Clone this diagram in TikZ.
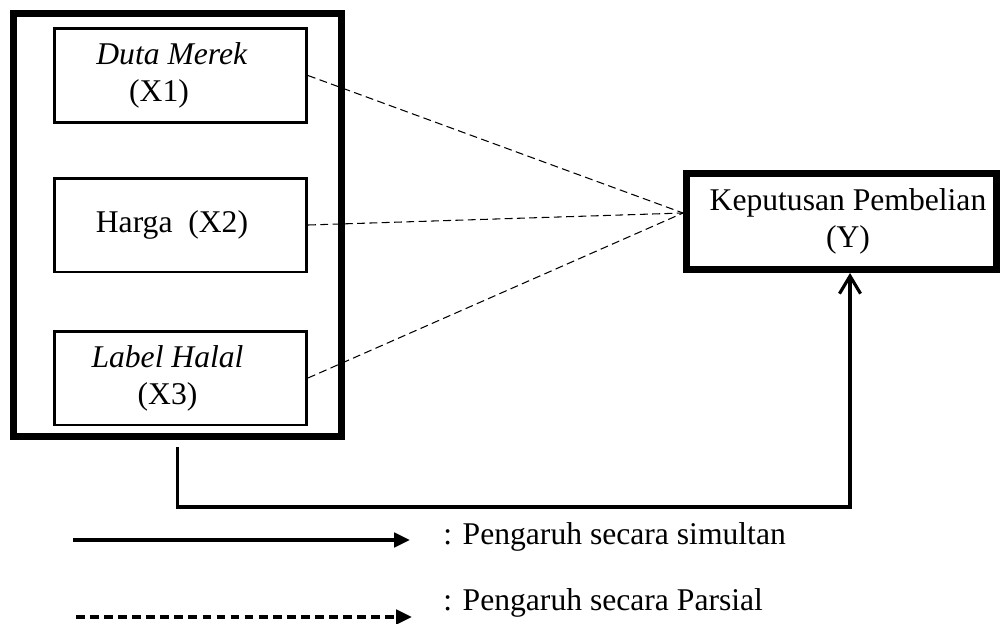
\documentclass[tikz,border=0pt]{standalone}
\usepackage{fontspec}
\setmainfont{Liberation Serif}
\usetikzlibrary{arrows.meta}
\tikzset{
	varbox/.style={draw,line width=1.7pt,minimum width=5.04cm,minimum height=1.88cm,align=center,inner sep=0pt},
	parsial/.style={dash pattern=on 4.5pt off 2.5pt,line width=0.6pt},
	simultan/.style={line width=1.8pt,-{Straight Barb[length=10pt,width=12pt,line width=1.8pt]}}
}
\begin{document}
\begin{tikzpicture}[x=0.02cm,y=-0.02cm,font=\fontsize{18}{21}\selectfont]
	\useasboundingbox (0,0) rectangle (1000,623);
	% variabel bebas
	\node[draw,line width=4pt,minimum width=6.56cm,minimum height=8.46cm] (outer) at (177.5,225) {};
	\node[varbox] (x1) at (180.5,75.5) {\textit{Duta Merek}\hspace*{0.34cm}\\(X1)\hspace*{0.86cm}};
	\node[varbox] (x2) at (180.5,225) {Harga\ \ (X2)\hspace*{0.34cm}};
	\node[varbox] (x3) at (180.5,378) {\textit{Label Halal}\hspace*{0.52cm}\\(X3)\hspace*{0.52cm}};
	% variabel terikat
	\node[draw,line width=4pt,minimum width=6.2cm,minimum height=1.92cm,align=center,inner sep=0pt] (y) at (841.5,221.5) {\hspace*{0.26cm}Keputusan Pembelian\\\hspace*{0.26cm}(Y)};
	\coordinate (meet) at ([yshift=0.17cm]y.west);
	\draw[parsial] (x1.east) -- (meet);
	\draw[parsial] (x2.east) -- (meet);
	\draw[parsial] (x3.east) -- (meet);
	\coordinate (turn) at (850,507);
	\draw[simultan] ([yshift=-0.14cm]outer.south) |- (turn) -- (y.south -| turn);
	% keterangan
	\coordinate (s1) at (73,540);
	\coordinate (s2) at (410,540);
	\coordinate (p1) at (76,617);
	\coordinate (p2) at (412,617);
	\draw[line width=2.3pt,-{Triangle[length=9pt,width=8pt]}] (s1) -- (s2);
	\draw[line width=2.3pt,dash pattern=on 5pt off 3pt,-{Triangle[length=9pt,width=8pt]}] (p1) -- (p2);
	\node[anchor=west,inner sep=0pt] (ks) at (443,537) {: Pengaruh secara simultan};
	\node[anchor=west,inner sep=0pt] (kp) at (443,603) {: Pengaruh secara Parsial};
\end{tikzpicture}
\end{document}
